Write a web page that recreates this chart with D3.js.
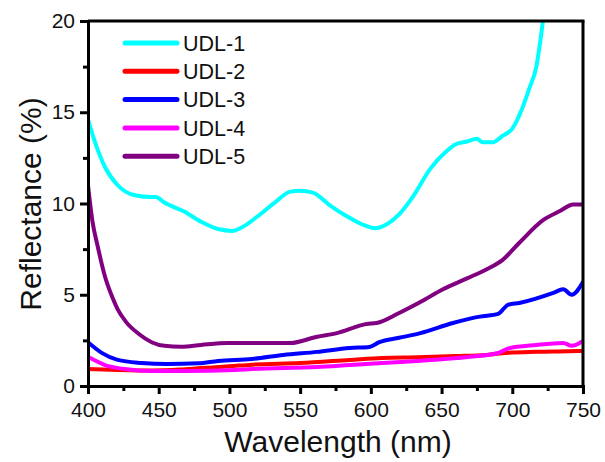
<!DOCTYPE html>
<html><head><meta charset="utf-8">
<script src="https://cdn.jsdelivr.net/npm/d3@7"></script>
<style>body{margin:0;background:#fff}svg{display:block}text{font-family:"Liberation Sans",Arial,sans-serif;fill:#111}</style>
</head><body><svg id="c" width="605" height="462"></svg>
<script>
const seriesNames = ["UDL-1","UDL-2","UDL-3","UDL-4","UDL-5"];
const seriesColors = ["#00ffff","#ff0000","#0000ff","#ff00ff","#800080"];
const xTicks = [400,450,500,550,600,650,700,750];
const yTicks = [0,5,10,15,20];
const udl1 = [[400,14.6],[405,13.35],[412,12.0],[421,11.0],[433,10.45],[445,10.35],[448,10.35],[454,10.05],[468,9.56],[480,9.0],[492,8.6],[502,8.5],[509,8.7],[520,9.3],[532,10.05],[543,10.65],[550,10.7],[559,10.6],[571,9.9],[583,9.3],[594,8.85],[603,8.65],[611,8.85],[620,9.4],[630,10.4],[642,11.9],[654,12.9],[660,13.25],[668,13.4],[675,13.55],[679,13.35],[686,13.35],[693,13.7],[700,14.1],[707,15.2],[712,16.3],[717,17.5],[720,19],[722,20.2]];
const udl2 = [[400,0.93],[421,0.88],[445,0.85],[465,0.9],[480,0.98],[500,1.08],[516,1.17],[550,1.26],[585,1.43],[608,1.54],[633,1.58],[660,1.64],[682,1.7],[693,1.8],[717,1.87],[740,1.9],[750,1.92]];
const udl3 = [[400,2.4],[410,1.8],[421,1.43],[438,1.26],[456,1.2],[478,1.24],[492,1.37],[516,1.48],[538,1.7],[562,1.87],[585,2.08],[599,2.14],[606,2.4],[620,2.64],[635,2.9],[658,3.45],[677,3.8],[690,3.95],[697,4.45],[705,4.55],[729,5.1],[736,5.3],[742,5.0],[750,5.7]];
const udl4 = [[400,1.6],[412,1.15],[426,0.93],[445,0.82],[468,0.82],[504,0.88],[516,0.93],[562,1.04],[585,1.15],[608,1.26],[633,1.37],[670,1.6],[690,1.81],[697,2.05],[717,2.25],[736,2.36],[742,2.2],[750,2.47]];
const udl5 = [[400,11.0],[403,9.1],[407,7.6],[412,6.0],[417,4.9],[421,4.2],[427,3.5],[436,2.85],[445,2.4],[454,2.2],[466,2.15],[480,2.25],[499,2.35],[516,2.35],[543,2.35],[562,2.7],[576,2.9],[597,3.4],[604,3.45],[620,4.0],[635,4.6],[651,5.3],[668,5.9],[682,6.4],[693,6.9],[705,7.85],[722,9.1],[734,9.6],[743,9.95],[750,9.95]];
const allSeries = [udl1,udl2,udl3,udl4,udl5];

const svg = d3.select("#c");
const L=88,R=583,T=21,B=386;
const x = d3.scaleLinear().domain([400,750]).range([L,R]);
const y = d3.scaleLinear().domain([0,20]).range([B,T]);

svg.append("defs").append("clipPath").attr("id","clip").append("rect").attr("x",L).attr("y",T).attr("width",R-L).attr("height",B-T);

const line = d3.line().x(d=>x(d[0])).y(d=>y(d[1])).curve(d3.curveMonotoneX);
const g = svg.append("g").attr("clip-path","url(#clip)");
[4,0,2,1,3].forEach(i=>{
  g.append("path").datum(allSeries[i]).attr("d",line).attr("fill","none")
   .attr("stroke",seriesColors[i]).attr("stroke-width",4).attr("stroke-linejoin","round").attr("stroke-linecap","round");
});

svg.append("line").attr("x1",L).attr("x2",R+1.5).attr("y1",T).attr("y2",T).attr("stroke","#000").attr("stroke-width",3);
svg.append("line").attr("x1",R).attr("x2",R).attr("y1",T).attr("y2",B).attr("stroke","#000").attr("stroke-width",3);

const xAxis = svg.append("g").attr("transform",`translate(0,${B})`).call(d3.axisBottom(x).tickValues(xTicks).tickSize(8).tickPadding(5).tickFormat(d3.format("d")));
const xMinor = svg.append("g").attr("transform",`translate(0,${B})`).call(d3.axisBottom(x).tickValues([425,475,525,575,625,675,725]).tickSize(5).tickFormat(""));
const yAxis = svg.append("g").attr("transform",`translate(${L},0)`).call(d3.axisLeft(y).tickValues(yTicks).tickSize(8).tickPadding(5));
const yMinor = svg.append("g").attr("transform",`translate(${L},0)`).call(d3.axisLeft(y).tickValues([2.5,7.5,12.5,17.5]).tickSize(5).tickFormat(""));
[xAxis,xMinor,yAxis,yMinor].forEach(a=>{
  a.select(".domain").attr("stroke","#000").attr("stroke-width",3);
  a.selectAll(".tick line").attr("stroke","#000").attr("stroke-width",3);
  a.selectAll(".tick text").style("font-size","21px").attr("fill","#111");
});
xAxis.selectAll(".tick text").attr("dy","0.85em");

svg.append("text").attr("x",338).attr("y",452).attr("text-anchor","middle").style("font-size","30px").text("Wavelength (nm)");
svg.append("text").attr("transform","translate(41,204) rotate(-90)").attr("text-anchor","middle").style("font-size","30px").text("Reflectance (%)");

const lg = svg.append("g");
seriesNames.forEach((n,i)=>{
  const yy = 43 + i*28.3;
  lg.append("line").attr("x1",125).attr("x2",177).attr("y1",yy).attr("y2",yy).attr("stroke",seriesColors[i]).attr("stroke-width",5).attr("stroke-linecap","round");
  lg.append("text").attr("x",183).attr("y",yy).attr("dy","0.36em").style("font-size","21.5px").text(n);
});
</script></body></html>
